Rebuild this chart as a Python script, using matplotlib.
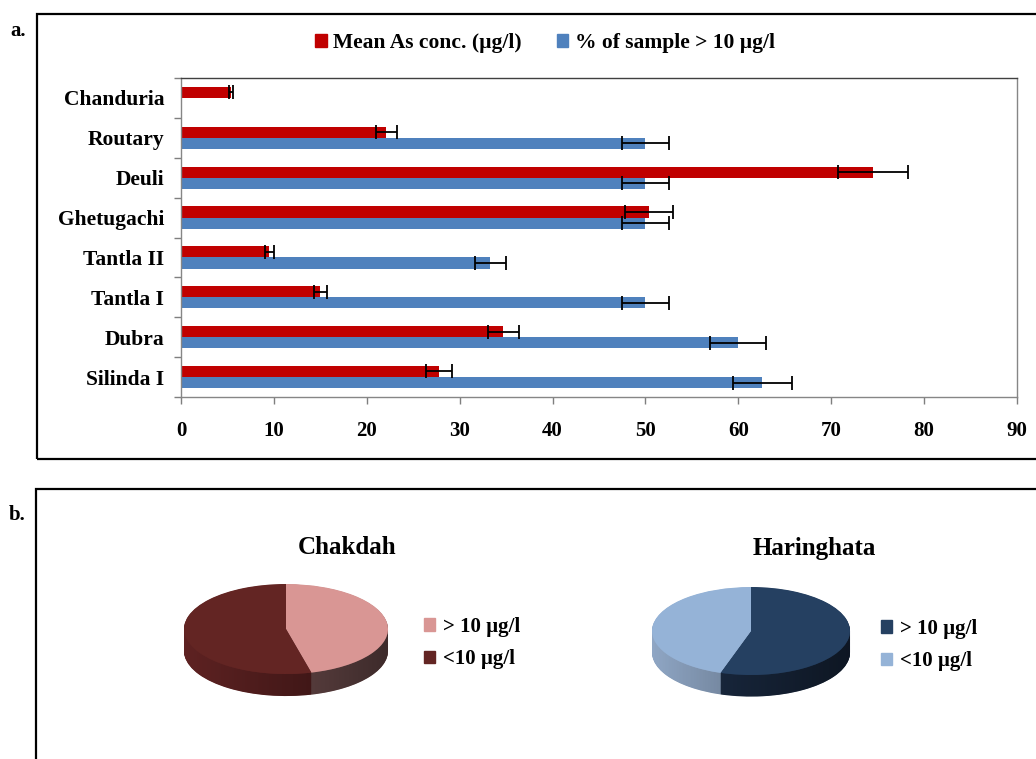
import numpy as np
import matplotlib
matplotlib.use("Agg")
import matplotlib.pyplot as plt
from matplotlib.patches import Patch, Rectangle, PathPatch
from matplotlib.path import Path

# --- data -------------------------------------------------------------
sites = ["Chanduria", "Routary", "Deuli", "Ghetugachi",
         "Tantla II", "Tantla I", "Dubra", "Silinda I"]
mean_as = [5.4, 22.1, 74.5, 50.4, 9.5, 15.0, 34.7, 27.8]
mean_as_err = [0.25, 1.1, 3.8, 2.6, 0.5, 0.7, 1.7, 1.4]
pct_above = [np.nan, 50.0, 50.0, 50.0, 33.3, 50.0, 60.0, 62.6]
pct_above_err = [np.nan, 2.5, 2.5, 2.5, 1.7, 2.5, 3.0, 3.2]
x_ticks = [0, 10, 20, 30, 40, 50, 60, 70, 80, 90]

pie_labels = ["> 10 \u00b5g/l", "<10 \u00b5g/l"]
chakdah = [46, 54]
haringhata = [55, 45]

# --- figure -----------------------------------------------------------
W, H = 1036, 759
fig = plt.figure(figsize=(W / 100, H / 100), dpi=100)
fig.patch.set_facecolor("white")
SERIF = "Liberation Serif"
FS = 15.5


def px_axes(left, top, w, h):
    return fig.add_axes([left / W, 1 - (top + h) / H, w / W, h / H])


# panel frames
fig.add_artist(Rectangle((37 / W, 1 - 459 / H), 1.0, (459 - 14) / H,
                         transform=fig.transFigure, fill=False,
                         lw=1.6, ec="black"))
fig.add_artist(Rectangle((36 / W, -0.1), 1.0, 1 - 489 / H + 0.1,
                         transform=fig.transFigure, fill=False,
                         lw=1.6, ec="black"))
fig.text(10 / W, 1 - 31 / H, "a.", family=SERIF, weight="bold",
         fontsize=15, va="center", ha="left")
fig.text(9 / W, 1 - 515 / H, "b.", family=SERIF, weight="bold",
         fontsize=15, va="center", ha="left")

# --- bar chart ----------------------------------------------------------
red = "#C00000"
blue = "#4F81BD"
ax = px_axes(181, 78, 836, 319)
ypos = np.arange(len(sites))[::-1]
h = 0.28
err_kw = dict(ecolor="black", elinewidth=1.3, capsize=5, capthick=1.3)
ax.barh(ypos + h / 2, mean_as, height=h, color=red, xerr=mean_as_err,
        error_kw=err_kw, label="Mean As conc. (\u00b5g/l)", zorder=2)
ax.barh(ypos - h / 2, pct_above, height=h, color=blue, xerr=pct_above_err,
        error_kw=err_kw, label="% of sample > 10 \u00b5g/l", zorder=2)
ax.set_xlim(0, 90)
ax.set_ylim(-0.5, len(sites) - 0.5)
ax.set_xticks(x_ticks)
ax.set_yticks(ypos)
ax.set_yticklabels(sites)
ax.set_yticks(np.arange(-0.5, len(sites), 1.0), minor=True)
ax.tick_params(axis="y", which="major", length=0, pad=12)
ax.tick_params(axis="y", which="minor", length=5, width=1.0,
               color="#7f7f7f", direction="out")
ax.tick_params(axis="x", length=5, width=1.0, color="#7f7f7f",
               direction="out", pad=12)
for lab in ax.get_yticklabels():
    lab.set_family(SERIF)
    lab.set_weight("bold")
    lab.set_fontsize(FS)
for lab in ax.get_xticklabels():
    lab.set_family(SERIF)
    lab.set_weight("bold")
    lab.set_fontsize(15)
for s in ax.spines.values():
    s.set_color("#868686")
    s.set_linewidth(1.0)
ax.spines["top"].set_color("#404040")

handles = [Patch(color=red), Patch(color=blue)]
fig.legend(handles, ["Mean As conc. (\u00b5g/l)", "% of sample > 10 \u00b5g/l"],
           loc="center", bbox_to_anchor=(545 / W, 1 - 43 / H), ncol=2,
           frameon=False, handlelength=0.55, handleheight=0.55,
           handletextpad=0.3, columnspacing=1.6,
           prop=dict(family=SERIF, weight="bold", size=FS))


# --- 3-D style pies -----------------------------------------------------
def pie3d(axp, values, top_colors, side_colors, depth=0.49, layers=45):
    # side wall: the pie repeated at decreasing depth
    for k in np.linspace(depth, 0, layers, endpoint=False):
        axp.pie(values, colors=side_colors, startangle=90, counterclock=False,
                center=(0, -k), radius=1.0,
                wedgeprops=dict(linewidth=0, zorder=1))
    # left-to-right shading across the wall
    t = np.linspace(np.pi, 2 * np.pi, 200)
    outline = np.vstack([np.column_stack([np.cos(t), np.sin(t) - depth]),
                         np.column_stack([np.cos(t[::-1]), np.sin(t[::-1])])])
    wall = PathPatch(Path(outline), transform=axp.transData,
                     facecolor="none", edgecolor="none")
    axp.add_patch(wall)
    ramp = np.zeros((2, 256, 4))
    ramp[..., 3] = np.linspace(0.0, 0.5, 256)[None, :]
    im = axp.imshow(ramp, extent=(-1, 1, -1 - depth, 0), aspect="auto",
                    interpolation="bilinear", zorder=2)
    im.set_clip_path(wall)
    # top face
    axp.pie(values, colors=top_colors, startangle=90, counterclock=False,
            center=(0, 0), radius=1.0,
            wedgeprops=dict(linewidth=0, zorder=3))
    axp.set_aspect("auto")
    axp.set_xlim(-1.3, 1.3)
    axp.set_ylim(-1.8, 1.2)
    axp.axis("off")


ch_top = ["#D99694", "#632523"]
ch_side = ["#7A5555", "#5E2222"]
ha_top = ["#254061", "#95B3D7"]
ha_side = ["#1C2D46", "#8FA6C4"]

ax1 = px_axes(286 - 1.3 * 102, 629 - 1.2 * 45, 2.6 * 102, 3.0 * 45)
pie3d(ax1, chakdah, ch_top, ch_side)
ax2 = px_axes(751 - 1.3 * 99, 631 - 1.2 * 44, 2.6 * 99, 3.0 * 44)
pie3d(ax2, haringhata, ha_top, ha_side)

fig.text(347 / W, 1 - 548 / H, "Chakdah", family=SERIF, weight="bold",
         fontsize=18, ha="center", va="center")
fig.text(814 / W, 1 - 548 / H, "Haringhata", family=SERIF, weight="bold",
         fontsize=18, ha="center", va="center")

leg_kw = dict(loc="center left", frameon=False, handlelength=0.55,
              handleheight=0.55, handletextpad=0.35, labelspacing=0.6,
              borderaxespad=0, borderpad=0,
              prop=dict(family=SERIF, weight="bold", size=15))
fig.legend([Patch(color=c) for c in ch_top], pie_labels,
           bbox_to_anchor=(424 / W, 1 - 643 / H), **leg_kw)
fig.legend([Patch(color=c) for c in ha_top], pie_labels,
           bbox_to_anchor=(881 / W, 1 - 645 / H), **leg_kw)

fig.savefig("out.png", dpi=100, facecolor="white")
